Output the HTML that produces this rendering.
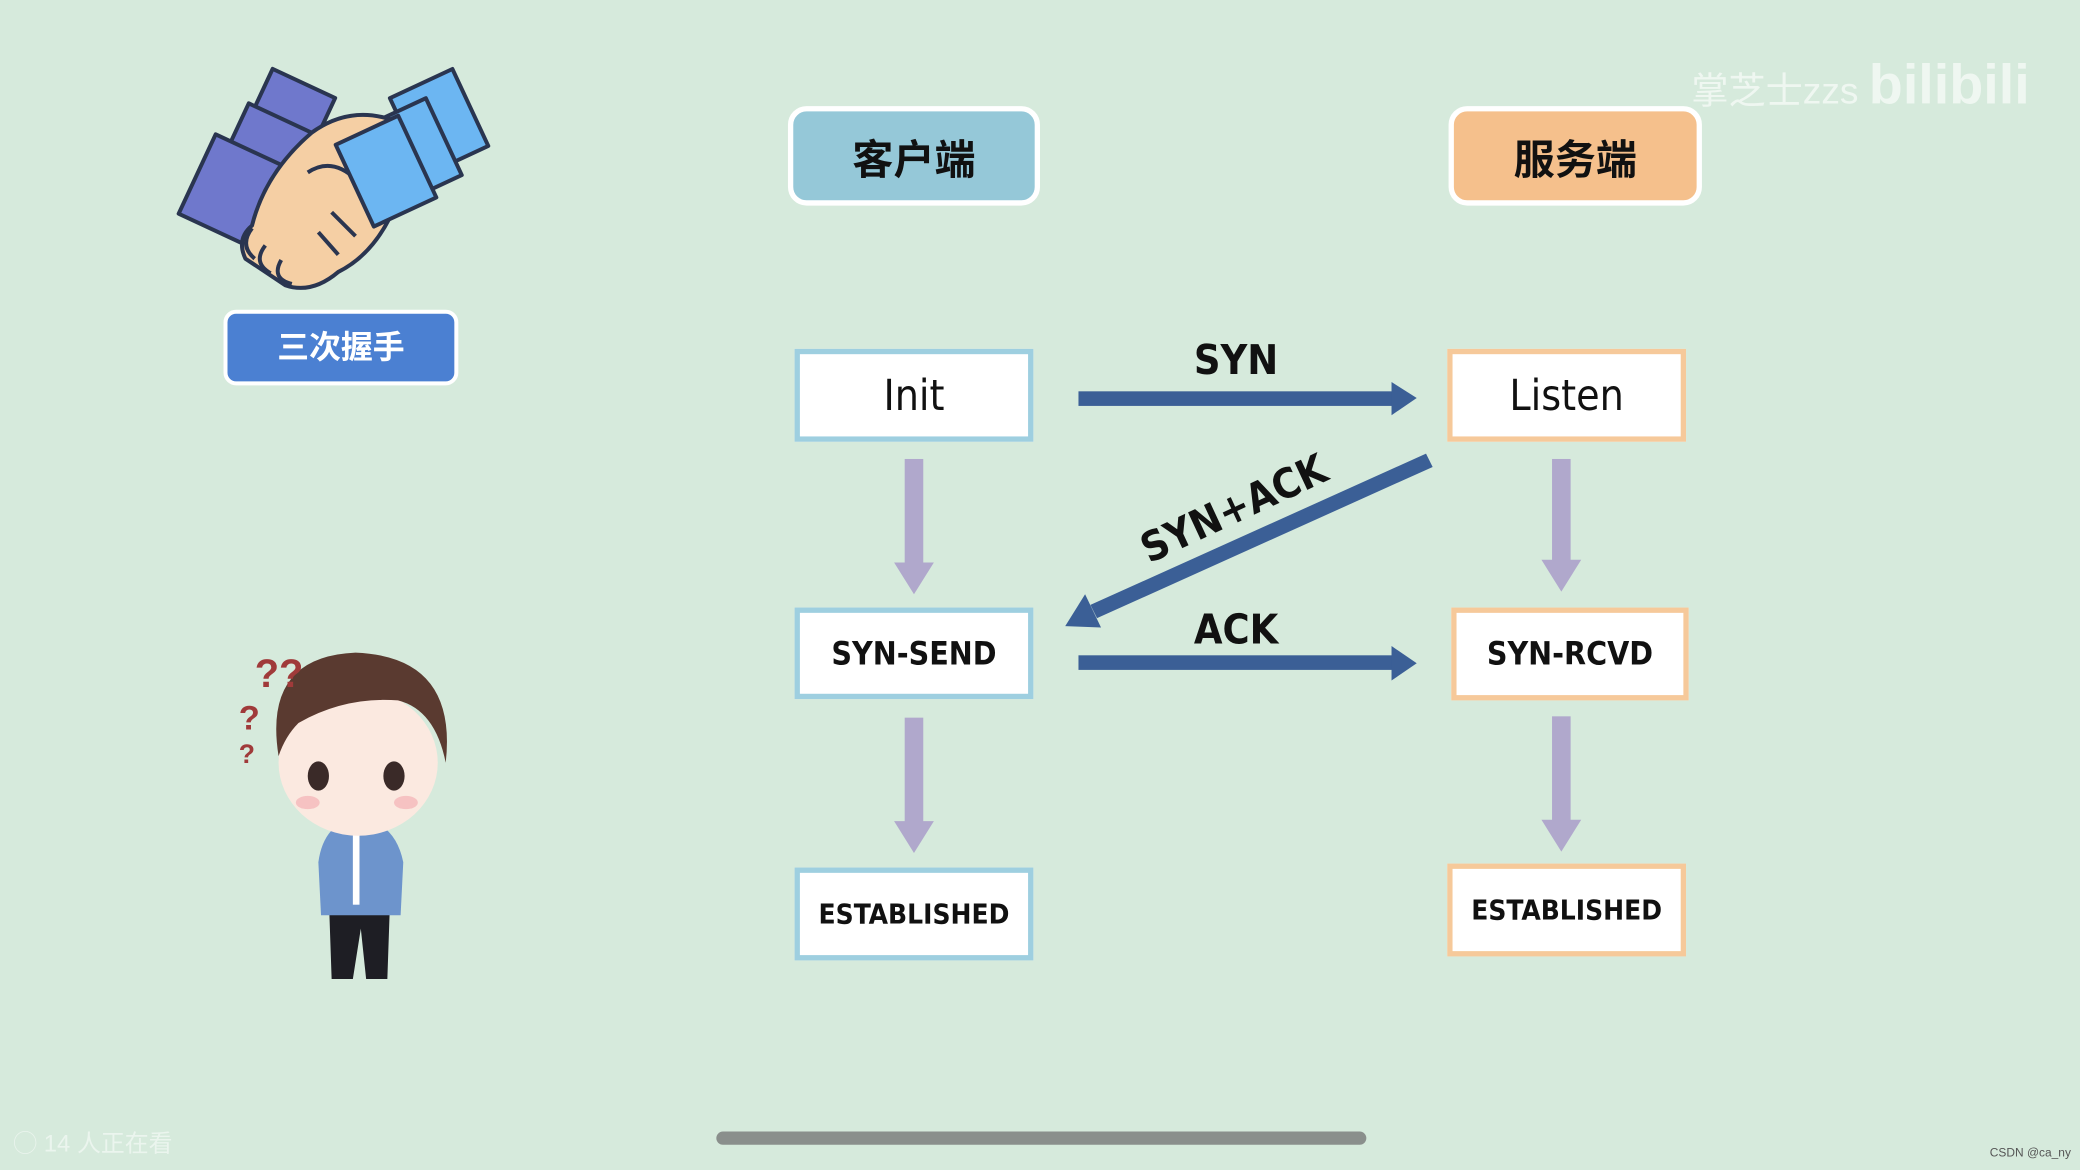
<!DOCTYPE html>
<html><head><meta charset="utf-8"><style>
html,body{margin:0;padding:0;width:2080px;height:1170px;overflow:hidden;background:#d6eadc;}
#w{position:absolute;left:0;top:0;width:1568px;height:882px;transform:scale(1.326531);transform-origin:0 0;font-family:"Liberation Sans","Noto Sans CJK SC",sans-serif;}
.b{position:absolute;box-sizing:border-box;display:flex;align-items:center;justify-content:center;color:#111;}
.h{border:4px solid #fff;border-radius:14px;font-size:31px;font-weight:bold;}
.n{background:#fff;border:4px solid #9ecfe0;font-size:24px;font-weight:bold;font-family:"DejaVu Sans Condensed","Liberation Sans",sans-serif;}
.o{border-color:#f6c99a;}
.lbl{position:absolute;font-size:31px;font-weight:bold;font-family:"DejaVu Sans Condensed","Liberation Sans",sans-serif;color:#111;}
</style></head><body><div id="w">
<div class="b h" style="left:594px;top:80px;width:190px;height:75px;background:#95c8d8;">客户端</div>
<div class="b h" style="left:1092px;top:80px;width:191px;height:75px;background:#f5c08c;">服务端</div>
<div class="b n" style="left:599px;top:263px;width:180px;height:70px;font-size:32px;font-weight:normal;">Init</div>
<div class="b n o" style="left:1091px;top:263px;width:180px;height:70px;font-size:32px;font-weight:normal;">Listen</div>
<div class="b n" style="left:599px;top:458px;width:180px;height:69px;">SYN-SEND</div>
<div class="b n o" style="left:1094px;top:458px;width:179px;height:70px;">SYN-RCVD</div>
<div class="b n" style="left:599px;top:654px;width:180px;height:70px;font-size:21px;">ESTABLISHED</div>
<div class="b n o" style="left:1091px;top:651px;width:180px;height:70px;font-size:21px;">ESTABLISHED</div>
<svg width="1568" height="882" style="position:absolute;left:0;top:0">
<g fill="#b0a8cc">
<rect x="682" y="346" width="14" height="80"/><polygon points="674,424 704,424 689,448"/>
<rect x="682" y="541" width="14" height="80"/><polygon points="674,619 704,619 689,643"/>
<rect x="1170" y="346" width="14" height="78"/><polygon points="1162,422 1192,422 1177,446"/>
<rect x="1170" y="540" width="14" height="80"/><polygon points="1162,618 1192,618 1177,642"/>
</g>
<g fill="#3b5f96">
<rect x="813" y="295" width="240" height="11"/><polygon points="1049,288 1068,300 1049,313"/>
<rect x="813" y="494" width="240" height="11"/><polygon points="1049,487 1068,500 1049,513"/>
<polygon points="1075,342 1080,352 827,466 822,456"/><polygon points="803,472 818,448 830,473"/>
</g>
<rect x="540" y="853" width="490" height="10" rx="5" fill="#8a8f8c"/>
<!-- handshake -->
<g stroke="#2a3550" stroke-width="3" stroke-linejoin="round">
<rect x="190" y="60" width="52" height="62" fill="#6f78cc" transform="rotate(25 216 91)"/>
<rect x="172" y="86" width="52" height="62" fill="#6f78cc" transform="rotate(25 198 117)"/>
<rect x="146" y="110" width="56" height="66" fill="#6f78cc" transform="rotate(25 174 143)"/>
<rect x="305" y="60" width="52" height="64" fill="#6cb6f2" transform="rotate(-25 331 92)"/>
<rect x="285" y="82" width="52" height="64" fill="#6cb6f2" transform="rotate(-25 311 114)"/>
<path d="M235,100 Q265,78 300,92 L300,150 Q285,190 255,205 Q235,222 215,215 L185,195 Q178,180 190,170 Q200,130 235,100Z" fill="#f5cfa4"/>
<path d="M190,172 Q180,185 192,195 M200,185 Q190,198 204,206 M212,196 Q204,210 220,214" fill="none"/>
<path d="M232,130 Q250,118 268,135 L285,158 M250,160 L268,178 M240,175 L255,192" fill="none"/>
<rect x="265" y="95" width="52" height="68" fill="#6cb6f2" transform="rotate(-25 291 129)"/>
</g>
<rect x="170" y="235" width="174" height="54" rx="8" fill="#4b80d2" stroke="#fff" stroke-width="3"/>
<text x="257" y="270" text-anchor="middle" font-size="24" font-weight="bold" fill="#fff" font-family="Liberation Sans,Noto Sans CJK SC,sans-serif">三次握手</text>
<!-- person -->
<g>
<path d="M248,680 L294,680 L292,738 L276,738 L272,700 L266,738 L250,738Z" fill="#1e1e24"/>
<path d="M240,650 Q244,620 270,616 Q298,620 304,650 L302,690 L242,690Z" fill="#6d94cc"/>
<rect x="266" y="622" width="5" height="60" fill="#fff"/>
<ellipse cx="270" cy="575" rx="60" ry="55" fill="#fbe9e0"/>
<path d="M210,570 Q198,495 268,492 Q345,495 336,575 Q328,535 300,528 Q260,525 225,545 Q215,555 210,570Z" fill="#5a3a30"/>
<ellipse cx="240" cy="585" rx="8" ry="11" fill="#3a2a28"/><ellipse cx="297" cy="585" rx="8" ry="11" fill="#3a2a28"/>
<ellipse cx="232" cy="605" rx="9" ry="5" fill="#f6c2c2"/><ellipse cx="306" cy="605" rx="9" ry="5" fill="#f6c2c2"/>
<text x="192" y="518" font-size="30" font-weight="bold" fill="#a03a3a">??</text>
<text x="180" y="550" font-size="26" font-weight="bold" fill="#a03a3a">?</text>
<text x="180" y="575" font-size="20" font-weight="bold" fill="#a03a3a">?</text>
</g>
</svg>
<div class="lbl" style="left:900px;top:254px;">SYN</div>
<div class="lbl" style="left:900px;top:457px;">ACK</div>
<div class="lbl" style="left:855px;top:366px;transform:rotate(-25deg);transform-origin:center;">SYN+ACK</div>
<div style="position:absolute;left:1275px;top:40px;font-size:28px;color:rgba(255,255,255,0.6);">掌芝士zzs <span style="font-size:42px;font-weight:bold;">bilibili</span></div>
<div style="position:absolute;left:10px;top:848px;font-size:18px;color:rgba(255,255,255,0.5);">◯ 14 人正在看</div>
<div style="position:absolute;left:1500px;top:864px;font-size:9px;color:#555;">CSDN @ca_ny</div>
</div></body></html>
